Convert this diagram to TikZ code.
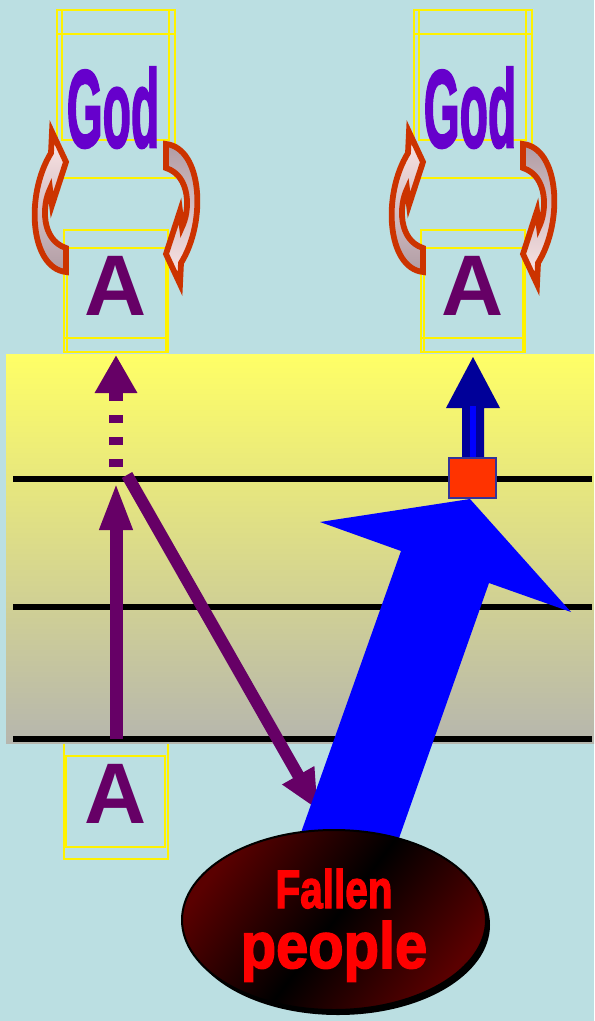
\documentclass[tikz,border=0pt]{standalone}
\usepackage{fontspec}
\setmainfont{Liberation Sans}
\newfontfamily\heavyfont[UprightFont={* Bold},FakeBold=2.5]{Liberation Sans}
\usetikzlibrary{arrows.meta}
\definecolor{bgcyan}{RGB}{187,223,226}
\definecolor{paneltop}{RGB}{255,255,102}
\definecolor{panelbot}{RGB}{182,182,174}
\definecolor{godviolet}{HTML}{6600CC}
\definecolor{aplum}{HTML}{660066}
\definecolor{curlred}{HTML}{CC3300}
\definecolor{curllight}{HTML}{FFE8E8}
\definecolor{curlgray}{HTML}{B09CA4}
\definecolor{navyarrow}{HTML}{000099}
\definecolor{squarered}{HTML}{FF3300}
\definecolor{squareedge}{HTML}{333399}
\definecolor{darkmaroon}{HTML}{5A0000}
% outline of one curled arrow (left one, head at the top)
\newcommand{\curlshape}{(52,132) -- (66,162) -- (52,205) -- (50,189) .. controls (42,205) and (41,240) .. (66,248) -- (66,272) .. controls (30,268) and (25,195) .. (51,153) -- cycle}

\begin{document}
\begin{tikzpicture}[x=.5pt,y=-.5pt,>=Stealth,
	every node/.style={inner sep=0pt,outer sep=0pt},
	frame/.style={draw=yellow,line width=.6pt},
	lane/.style={line width=2.6pt,black},
	curl/.style={draw=curlred,line width=2.9pt,line join=miter,miter limit=8},
	plum/.style={draw=aplum,line width=6.5pt},
	word/.style={font=\heavyfont\fontsize{55}{55}\selectfont,text=godviolet},
	letter/.style={font=\bfseries\fontsize{43}{43}\selectfont,text=aplum}]
	\useasboundingbox (0,0) rectangle (594,1021);
	\fill[bgcyan] (0,0) rectangle (594,1021);
	% God and A, twice
	\foreach \dx/\s in {0/L,357/R}{
		\begin{scope}[shift={(\dx,0)}]
			\draw[frame] (57,10) rectangle (175,178) (62,10) rectangle (169,140) (57,34) -- (175,34);
			\draw[frame] (64,230) rectangle (168,352) (67,248) rectangle (166,352) (64,338) -- (168,338);
			\node[word,anchor=base] (god\s) at (113,147) {\scalebox{.42}[1]{God}};
			\node[letter,anchor=base] (a\s) at (116,315) {A};
			\shade[curl,top color=curllight,bottom color=curlgray] \curlshape;
			\begin{scope}[rotate around={180:(116,208)}]
				\shade[curl,top color=curlgray,bottom color=curllight] \curlshape;
			\end{scope}
		\end{scope}
	}
	\draw[frame] (64,740) rectangle (168,859) (66,756) rectangle (165,847);
	\node[letter,anchor=base] (aB) at (116,823) {A};
	% panel
	\shade[top color=paneltop,bottom color=panelbot] (6,354) rectangle (594,743);
	\foreach \y in {479,607,739}
	{\draw[lane] (13,\y) -- (592,\y);}
	% purple arrows
	\coordinate (risefoot) at (116,739);
	\coordinate (risetip) at (116,482);
	\coordinate (dashfoot) at (116,467);
	\coordinate (dashtip) at (116,355);
	\coordinate (fallstart) at (127,475);
	\coordinate (fallend) at (318,810);
	\draw[plum,-{Triangle[length=24pt,width=15pt]}] (risefoot) -- (risetip);
	\draw[plum,line width=7pt,dash pattern=on 4pt off 7pt,-{Triangle[length=19pt,width=20pt]}] (dashfoot) -- (dashtip);
	\draw[plum,line width=6pt,-{Triangle[length=20pt,width=17pt]}] (fallstart) -- (fallend);
	% big blue arrow
	\fill[blue] (470,499) -- (571,612) -- (489,583) -- (392,858) -- (292,858) -- (401,551) -- (320,522) -- cycle;
	% small arrow on the right
	\fill[navyarrow] (473,357) -- (500,408) -- (484,408) -- (484,458) -- (462,458) -- (462,408) -- (446,408) -- cycle;
	\fill[blue] (470,406) rectangle (476,458);
	\node[draw=squareedge,fill=squarered,line width=.8pt,minimum width=23.5pt,minimum height=20pt] (hub) at (472.5,478) {};
	% fallen people
	\fill[black] (338,925) ellipse [x radius=152,y radius=90];
	\shade[draw=black,line width=1pt,top color=darkmaroon,bottom color=darkmaroon,middle color=black,shading angle=53] (334,920) ellipse [x radius=152,y radius=90];
	\node[font=\heavyfont\fontsize{27}{27}\selectfont,text=red,anchor=base] (fallen) at (334,908) {\scalebox{.75}[1]{Fallen}};
	\node[font=\heavyfont\fontsize{32.5}{32.5}\selectfont,text=red,anchor=base] (people) at (334,968) {\scalebox{.89}[1]{people}};
\end{tikzpicture}
\end{document}
